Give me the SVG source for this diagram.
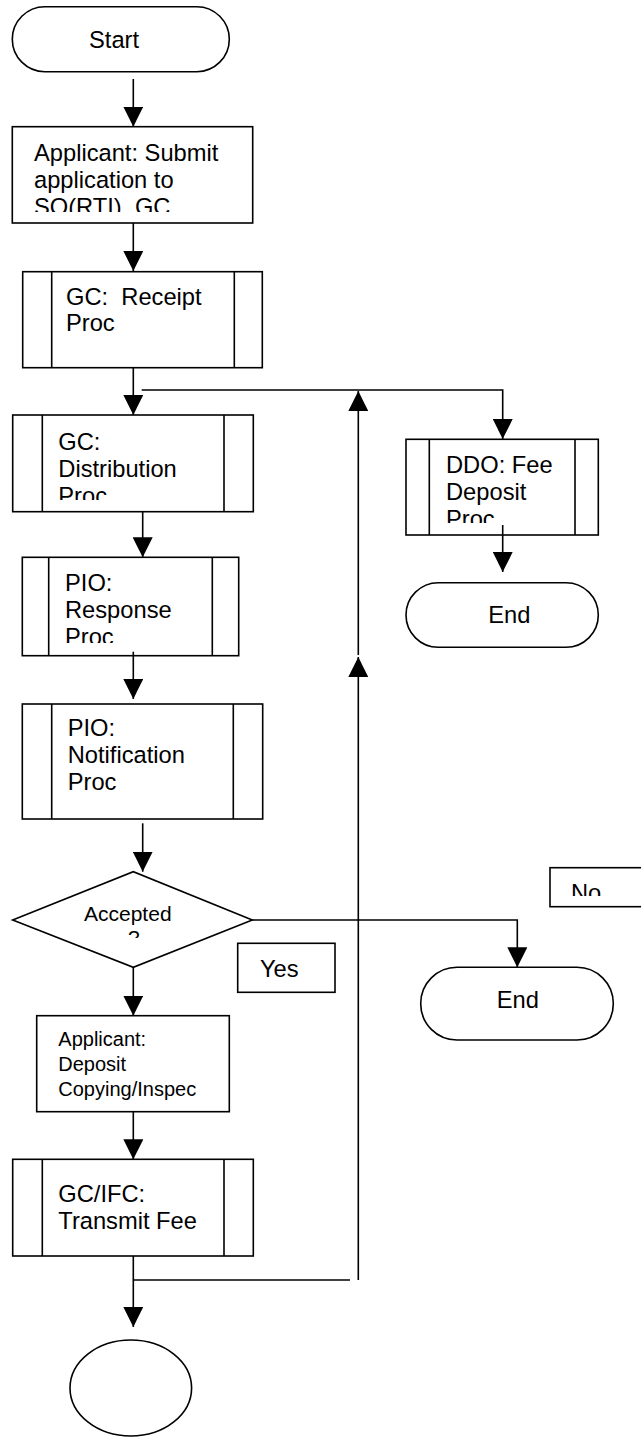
<svg xmlns="http://www.w3.org/2000/svg" width="641" height="1437" viewBox="0 0 641 1437">
<style>
.s{fill:#fff;stroke:#000;stroke-width:1.6}
.i{fill:none;stroke:#000;stroke-width:1.6}
.c{fill:none;stroke:#000;stroke-width:1.6}
.a{marker-end:url(#ah)}
text{font-family:"Liberation Sans",Arial,sans-serif;font-size:23.7px;fill:#000}
.sm{font-size:20px}
.dm{font-size:21px}
</style>
<defs>
<marker id="ah" viewBox="0 0 20 20" markerUnits="userSpaceOnUse" markerWidth="20" markerHeight="20" refX="20" refY="10" orient="auto">
<path d="M0,0 L20,10 L0,20 z" fill="#000"/>
</marker>
<clipPath id="clA"><rect x="0" y="120" width="260" height="92"/></clipPath>
<clipPath id="clD"><rect x="0" y="410" width="260" height="90"/></clipPath>
<clipPath id="clR"><rect x="0" y="550" width="260" height="93"/></clipPath>
<clipPath id="clF"><rect x="400" y="430" width="200" height="93"/></clipPath>
<clipPath id="clQ"><rect x="0" y="870" width="260" height="68"/></clipPath>
<clipPath id="clN"><rect x="550" y="860" width="91" height="36"/></clipPath>
</defs>
<g id="start">
<rect class="s" x="12.3" y="6.7" width="217" height="65" rx="32.5"/>
<text x="89" y="48.3">Start</text>
</g>
<g id="applicant-submit">
<rect class="s" x="12.3" y="126.7" width="240.4" height="96.3"/>
<g clip-path="url(#clA)">
<text x="34" y="161">Applicant: Submit</text>
<text x="34" y="188">application to</text>
<text x="34" y="215">SO(RTI), GC</text>
</g>
</g>
<g id="gc-receipt">
<rect class="s" x="22.7" y="271.7" width="239.6" height="96"/>
<path class="i" d="M51.7,271.7 V367.7 M234.3,271.7 V367.7"/>
<text x="66" y="305" xml:space="preserve">GC:  Receipt</text>
<text x="66" y="331">Proc</text>
</g>
<g id="gc-distribution">
<rect class="s" x="12.7" y="415" width="240.6" height="96.7"/>
<path class="i" d="M42.3,415 V511.7 M224,415 V511.7"/>
<g clip-path="url(#clD)">
<text x="58.3" y="449.5">GC:</text>
<text x="58.3" y="476.5">Distribution</text>
<text x="58.3" y="503.5">Proc</text>
</g>
</g>
<g id="pio-response">
<rect class="s" x="22.3" y="557.3" width="216.4" height="98.4"/>
<path class="i" d="M48.7,557.3 V655.7 M212.3,557.3 V655.7"/>
<g clip-path="url(#clR)">
<text x="65" y="591">PIO:</text>
<text x="65" y="618">Response</text>
<text x="65" y="645">Proc</text>
</g>
</g>
<g id="pio-notification">
<rect class="s" x="22.3" y="704" width="240.4" height="115"/>
<path class="i" d="M51.7,704 V819 M233.3,704 V819"/>
<text x="67.7" y="736">PIO:</text>
<text x="67.7" y="763">Notification</text>
<text x="67.7" y="790">Proc</text>
</g>
<g id="ddo-fee">
<rect class="s" x="406" y="439.3" width="192.3" height="95.7"/>
<path class="i" d="M429.3,439.3 V535 M575,439.3 V535"/>
<g clip-path="url(#clF)">
<text x="446" y="473">DDO: Fee</text>
<text x="446" y="500">Deposit</text>
<text x="446" y="527">Proc</text>
</g>
</g>
<g id="end-1">
<rect class="s" x="406" y="582.7" width="192.3" height="64.6" rx="32.3"/>
<text x="488.3" y="622.7">End</text>
</g>
<g id="accepted">
<polygon class="s" points="12.7,920 133.3,871.7 252.3,920 133.3,967.3"/>
<g clip-path="url(#clQ)">
<text class="dm" x="84" y="921">Accepted</text>
<text class="dm" x="128" y="945">?</text>
</g>
</g>
<g id="label-yes">
<rect class="s" x="237.7" y="943.3" width="97.3" height="49"/>
<text x="260" y="977">Yes</text>
</g>
<g id="label-no">
<rect class="s" x="550" y="867.7" width="100" height="39"/>
<g clip-path="url(#clN)">
<text x="571" y="901">No</text>
</g>
</g>
<g id="end-2">
<rect class="s" x="420.7" y="967.3" width="192.6" height="72.7" rx="36.3"/>
<text x="496.7" y="1008.3">End</text>
</g>
<g id="applicant-deposit">
<rect class="s" x="36.7" y="1015.7" width="192.6" height="96"/>
<text class="sm" x="58.3" y="1046">Applicant:</text>
<text class="sm" x="58.3" y="1071">Deposit</text>
<text class="sm" x="58.3" y="1096">Copying/Inspec</text>
</g>
<g id="gc-ifc">
<rect class="s" x="12.7" y="1159.3" width="240.6" height="96.7"/>
<path class="i" d="M42.3,1159.3 V1256 M224,1159.3 V1256"/>
<text x="58.3" y="1202">GC/IFC:</text>
<text x="58.3" y="1229">Transmit Fee</text>
</g>
<g id="connector-circle">
<ellipse class="s" cx="130.8" cy="1388" rx="60.8" ry="48"/>
</g>
<g id="connectors">
<path class="c a" d="M133.3,79 V126.7"/>
<path class="c a" d="M133.3,223 V271"/>
<path class="c a" d="M133.3,367.7 V415"/>
<path class="c a" d="M141.7,390 H502.7 V439"/>
<path class="c a" d="M142.7,511.7 V557.3"/>
<path class="c a" d="M502.7,525 V572"/>
<path class="c a" d="M133.3,651.7 V699"/>
<path class="c a" d="M142.7,823.3 V871.7"/>
<path class="c a" d="M252.3,920 H517.3 V967.3"/>
<path class="c a" d="M133.3,967.3 V1015.7"/>
<path class="c a" d="M133.3,1111.7 V1159.3"/>
<path class="c a" d="M133.3,1256 V1327"/>
<path class="c" d="M133.3,1280 H350"/>
<path class="c a" d="M358.3,1280 V657"/>
<path class="c a" d="M358.3,655 V391"/>
</g>
</svg>
